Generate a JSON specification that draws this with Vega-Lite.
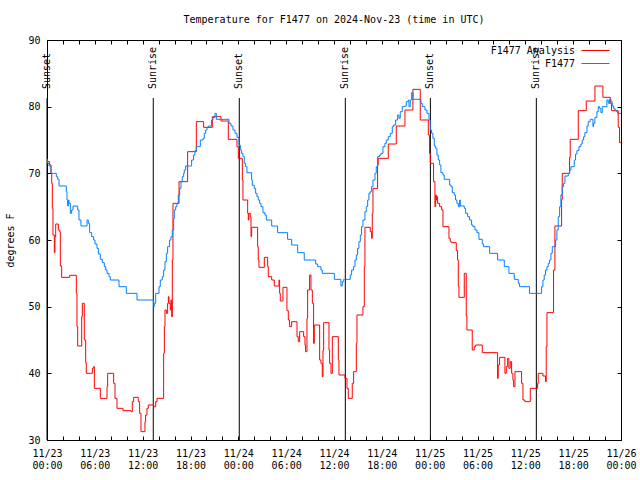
{
  "$schema": "https://vega.github.io/schema/vega-lite/v6.json",
  "width": 574,
  "height": 400,
  "autosize": {"type": "none"},
  "padding": {"left": 47, "top": 40, "right": 19, "bottom": 40},
  "background": "white",
  "config": {
    "font": "DejaVu Sans Mono",
    "view": {"stroke": "black", "strokeWidth": 1},
    "axis": {"labelFont": "DejaVu Sans Mono", "labelFontSize": 10, "labelColor": "black", "tickColor": "black", "grid": false, "domain": false, "titleFont": "DejaVu Sans Mono", "titleFontSize": 10, "titleFontWeight": "normal", "titleColor": "black"}
  },
  "title": {"text": "Temperature for F1477 on 2024-Nov-23 (time in UTC)", "font": "DejaVu Sans Mono", "fontSize": 10, "fontWeight": "normal", "anchor": "middle", "frame": "group", "offset": 10, "color": "black"},
  "datasets": {
    "red": [
{"h":0,"t":71.75},{"h":0.33,"t":71.25},{"h":0.5,"t":70},{"h":0.59,"t":68.5},{"h":0.67,"t":64.75},{"h":0.75,"t":60.75},{"h":0.92,"t":58.1},{"h":1.0,"t":60.5},{"h":1.09,"t":62.4},{"h":1.42,"t":61.5},{"h":1.59,"t":61.25},{"h":1.67,"t":56.1},{"h":1.84,"t":54.4},{"h":2.84,"t":54.7},{"h":3.68,"t":52},{"h":3.76,"t":47},{"h":3.85,"t":44.1},{"h":4.35,"t":48.5},{"h":4.43,"t":50.5},{"h":4.68,"t":45},{"h":4.85,"t":41.6},{"h":4.93,"t":40},{"h":5.69,"t":40.75},{"h":5.85,"t":41},{"h":5.94,"t":37.75},{"h":6.69,"t":36.25},{"h":7.53,"t":38},{"h":7.61,"t":40},{"h":8.36,"t":38.5},{"h":8.53,"t":36.25},{"h":8.78,"t":34.75},{"h":9.53,"t":34.4},{"h":10.54,"t":34.25},{"h":10.70,"t":35.75},{"h":10.87,"t":36.4},{"h":11.45,"t":35.75},{"h":11.62,"t":34},{"h":11.79,"t":31.25},{"h":12.29,"t":32.75},{"h":12.37,"t":33.75},{"h":12.54,"t":34.75},{"h":12.71,"t":35.25},{"h":13.38,"t":35},{"h":13.63,"t":35.75},{"h":13.80,"t":36.25},{"h":14.63,"t":43},{"h":14.72,"t":47},{"h":14.80,"t":49.5},{"h":14.97,"t":49},{"h":15.13,"t":50.5},{"h":15.22,"t":51.5},{"h":15.30,"t":50.5},{"h":15.47,"t":49.5},{"h":15.55,"t":51},{"h":15.64,"t":48.5},{"h":15.72,"t":57},{"h":15.80,"t":65.5},{"h":16.56,"t":68.75},{"h":17.64,"t":73.25},{"h":18.73,"t":77.75},{"h":19.65,"t":76.9},{"h":20.74,"t":78.5},{"h":21.82,"t":77.85},{"h":22.74,"t":75.1},{"h":23.83,"t":74},{"h":24.0,"t":72.25},{"h":24.5,"t":69},{"h":24.58,"t":66},{"h":25.17,"t":64},{"h":25.25,"t":63},{"h":25.33,"t":64},{"h":25.5,"t":63.5},{"h":25.59,"t":60.5},{"h":25.67,"t":61.9},{"h":26.42,"t":59},{"h":26.5,"t":57},{"h":26.59,"t":55.9},{"h":27.26,"t":57.4},{"h":27.68,"t":56},{"h":27.76,"t":54.5},{"h":28.18,"t":54},{"h":28.51,"t":53.1},{"h":29.10,"t":54},{"h":29.18,"t":52},{"h":29.26,"t":50.85},{"h":29.60,"t":52.9},{"h":30.10,"t":49.4},{"h":30.27,"t":48},{"h":30.43,"t":47},{"h":30.69,"t":47.75},{"h":31.36,"t":45.5},{"h":31.52,"t":44.75},{"h":31.69,"t":46.25},{"h":32.19,"t":45.5},{"h":32.36,"t":44.25},{"h":32.44,"t":43.25},{"h":32.61,"t":48.25},{"h":32.69,"t":52.5},{"h":32.94,"t":54.75},{"h":33.11,"t":52.5},{"h":33.28,"t":50.5},{"h":33.44,"t":44.5},{"h":33.53,"t":47.25},{"h":34.20,"t":42},{"h":34.36,"t":41.5},{"h":34.53,"t":39.5},{"h":34.62,"t":43.5},{"h":34.70,"t":47.6},{"h":35.37,"t":43.5},{"h":35.45,"t":41.5},{"h":35.62,"t":40},{"h":35.79,"t":45.5},{"h":36.54,"t":42},{"h":36.62,"t":39.75},{"h":37.37,"t":39.25},{"h":37.63,"t":37.75},{"h":37.79,"t":36.25},{"h":38.29,"t":38.5},{"h":38.46,"t":40.25},{"h":38.80,"t":44.5},{"h":38.88,"t":48.75},{"h":39.63,"t":50},{"h":39.80,"t":56},{"h":39.88,"t":61.9},{"h":40.55,"t":61.25},{"h":40.72,"t":60.25},{"h":40.80,"t":64},{"h":40.89,"t":67.75},{"h":41.47,"t":71.25},{"h":41.55,"t":72.25},{"h":42.81,"t":74.4},{"h":43.81,"t":77.1},{"h":44.90,"t":79.5},{"h":45.90,"t":82.6},{"h":46.82,"t":78},{"h":47.83,"t":75.75},{"h":47.99,"t":73},{"h":48.08,"t":71.5},{"h":48.49,"t":68.75},{"h":48.66,"t":65},{"h":48.75,"t":66.75},{"h":48.83,"t":66},{"h":48.91,"t":66.5},{"h":49.0,"t":65.5},{"h":49.25,"t":65},{"h":49.5,"t":64.5},{"h":49.67,"t":62},{"h":50.42,"t":60.25},{"h":50.58,"t":59.75},{"h":50.75,"t":59.6},{"h":51.34,"t":58.4},{"h":51.5,"t":57},{"h":51.59,"t":53.1},{"h":51.67,"t":51.4},{"h":52.34,"t":55},{"h":52.59,"t":48.6},{"h":52.67,"t":46.5},{"h":53.34,"t":43.5},{"h":53.59,"t":44},{"h":53.76,"t":44.25},{"h":54.60,"t":43.1},{"h":56.52,"t":39.25},{"h":56.60,"t":41.25},{"h":56.77,"t":42.4},{"h":57.44,"t":40},{"h":57.61,"t":41},{"h":57.78,"t":42.25},{"h":57.94,"t":40.75},{"h":58.11,"t":41.75},{"h":58.28,"t":40},{"h":58.44,"t":39},{"h":58.53,"t":38},{"h":58.70,"t":40.25},{"h":59.53,"t":38.5},{"h":59.70,"t":36},{"h":59.95,"t":35.75},{"h":60.62,"t":37.75},{"h":61.54,"t":38.5},{"h":61.62,"t":40},{"h":62.21,"t":39.6},{"h":62.54,"t":38.75},{"h":62.62,"t":44},{"h":62.71,"t":49.1},{"h":63.54,"t":55.5},{"h":63.71,"t":62.1},{"h":64.55,"t":66.1},{"h":64.63,"t":70},{"h":65.55,"t":72.4},{"h":65.63,"t":75.1},{"h":66.64,"t":79.4},{"h":67.64,"t":80.85},{"h":68.73,"t":83.1},{"h":69.73,"t":81.4},{"h":70.65,"t":80.5},{"h":70.82,"t":79.4},{"h":71.65,"t":76.9},{"h":71.82,"t":74.6},{"h":72,"t":74.6}
    ],
    "blue": [
{"h":0,"t":72.1},{"h":0.08,"t":71.5},{"h":0.25,"t":71.1},{"h":0.5,"t":70},{"h":1.17,"t":69.5},{"h":1.34,"t":69.1},{"h":1.51,"t":68.1},{"h":2.42,"t":67.25},{"h":2.51,"t":66},{"h":2.59,"t":65.1},{"h":2.68,"t":66},{"h":2.76,"t":65.5},{"h":2.93,"t":64},{"h":3.09,"t":64.5},{"h":3.26,"t":65.1},{"h":3.85,"t":64.5},{"h":4.01,"t":63},{"h":4.26,"t":62.1},{"h":5.02,"t":63},{"h":5.18,"t":62.5},{"h":5.35,"t":61.1},{"h":5.6,"t":60.5},{"h":5.85,"t":60},{"h":6.02,"t":59.4},{"h":6.27,"t":58.75},{"h":6.44,"t":57.9},{"h":6.69,"t":57.1},{"h":6.94,"t":56.6},{"h":7.19,"t":56},{"h":7.36,"t":55.5},{"h":7.53,"t":55},{"h":7.78,"t":54.5},{"h":7.94,"t":54},{"h":9.03,"t":53},{"h":9.95,"t":52},{"h":11.29,"t":51},{"h":13.38,"t":50},{"h":13.46,"t":50.5},{"h":13.63,"t":52},{"h":14.05,"t":53},{"h":14.21,"t":54},{"h":14.46,"t":54.5},{"h":14.63,"t":55.5},{"h":14.80,"t":56.75},{"h":14.97,"t":58},{"h":15.13,"t":59},{"h":15.38,"t":60},{"h":15.55,"t":60.5},{"h":15.72,"t":61.5},{"h":15.89,"t":63.25},{"h":15.97,"t":64.5},{"h":16.14,"t":65},{"h":16.30,"t":65.5},{"h":16.47,"t":66.75},{"h":16.64,"t":67.75},{"h":16.81,"t":68.75},{"h":16.97,"t":69.5},{"h":17.14,"t":70},{"h":17.22,"t":70.5},{"h":17.39,"t":71.1},{"h":18.14,"t":72},{"h":18.39,"t":72.75},{"h":18.56,"t":73.4},{"h":18.73,"t":74},{"h":19.23,"t":75},{"h":19.57,"t":75.25},{"h":19.73,"t":76},{"h":19.90,"t":76.5},{"h":20.07,"t":76.9},{"h":20.23,"t":77.1},{"h":20.65,"t":78},{"h":20.82,"t":78.4},{"h":21.07,"t":79},{"h":21.24,"t":78.1},{"h":22.83,"t":77.5},{"h":23.08,"t":77.1},{"h":23.33,"t":76.5},{"h":23.58,"t":76},{"h":23.83,"t":75.4},{"h":24.08,"t":74.25},{"h":24.25,"t":73.5},{"h":24.41,"t":73},{"h":24.58,"t":72.5},{"h":24.75,"t":71.5},{"h":24.92,"t":71},{"h":25.08,"t":70.1},{"h":25.67,"t":69},{"h":25.75,"t":68.2},{"h":26.0,"t":67.75},{"h":26.17,"t":67},{"h":26.34,"t":66.5},{"h":26.5,"t":66},{"h":26.67,"t":65.5},{"h":26.84,"t":65},{"h":27.09,"t":64.1},{"h":27.34,"t":63.75},{"h":27.51,"t":63},{"h":28.18,"t":62.1},{"h":28.93,"t":61.1},{"h":30.18,"t":60.1},{"h":30.69,"t":59.25},{"h":31.44,"t":58.1},{"h":32.27,"t":57},{"h":33.70,"t":56.4},{"h":33.95,"t":56},{"h":34.36,"t":55.5},{"h":34.53,"t":55},{"h":36.04,"t":54.1},{"h":36.87,"t":53.1},{"h":37.04,"t":53.75},{"h":37.21,"t":54.1},{"h":38.04,"t":54.75},{"h":38.21,"t":55.5},{"h":38.46,"t":56},{"h":38.63,"t":57},{"h":38.80,"t":57.75},{"h":38.96,"t":58.75},{"h":39.13,"t":59.75},{"h":39.30,"t":60.75},{"h":39.46,"t":62},{"h":39.63,"t":63},{"h":39.88,"t":64.25},{"h":40.05,"t":65},{"h":40.22,"t":66},{"h":40.38,"t":67},{"h":40.55,"t":67.25},{"h":40.72,"t":68},{"h":40.89,"t":69},{"h":41.14,"t":70},{"h":41.30,"t":71},{"h":41.47,"t":72.5},{"h":41.72,"t":72.75},{"h":41.89,"t":73},{"h":42.14,"t":74},{"h":42.39,"t":74.5},{"h":42.56,"t":75},{"h":42.81,"t":75.5},{"h":43.06,"t":76},{"h":43.31,"t":77},{"h":43.48,"t":77.25},{"h":43.73,"t":78},{"h":43.98,"t":78.75},{"h":44.15,"t":78.25},{"h":44.31,"t":79.25},{"h":44.56,"t":80},{"h":44.90,"t":80.1},{"h":45.07,"t":80.75},{"h":45.32,"t":81},{"h":45.40,"t":80},{"h":45.57,"t":81},{"h":45.74,"t":82.1},{"h":45.90,"t":81.1},{"h":46.91,"t":80.5},{"h":47.07,"t":80},{"h":47.41,"t":79.5},{"h":47.66,"t":79},{"h":47.91,"t":78},{"h":48.08,"t":76.5},{"h":48.24,"t":76},{"h":48.41,"t":75.25},{"h":48.58,"t":74.1},{"h":48.75,"t":73.75},{"h":48.91,"t":72.75},{"h":49.08,"t":72},{"h":49.25,"t":71.25},{"h":49.41,"t":70.1},{"h":49.67,"t":69.75},{"h":49.83,"t":69.1},{"h":50.5,"t":68.25},{"h":50.67,"t":68},{"h":50.84,"t":67.1},{"h":51.09,"t":66.75},{"h":51.25,"t":66},{"h":51.42,"t":65.5},{"h":51.59,"t":65},{"h":51.76,"t":66},{"h":51.84,"t":65.1},{"h":52.34,"t":64.75},{"h":52.51,"t":64},{"h":52.76,"t":63.5},{"h":53.01,"t":63},{"h":53.26,"t":62.25},{"h":53.43,"t":62},{"h":53.68,"t":61.5},{"h":53.93,"t":61.1},{"h":54.18,"t":60.1},{"h":54.60,"t":59.4},{"h":54.77,"t":59},{"h":55.52,"t":58},{"h":56.52,"t":57},{"h":57.36,"t":56},{"h":57.94,"t":55},{"h":58.61,"t":54.1},{"h":59.11,"t":53.5},{"h":59.28,"t":53},{"h":60.53,"t":52},{"h":62.04,"t":53},{"h":62.21,"t":54},{"h":62.37,"t":54.75},{"h":62.54,"t":55.5},{"h":62.71,"t":56},{"h":62.88,"t":56.5},{"h":63.04,"t":57},{"h":63.21,"t":58},{"h":63.38,"t":59},{"h":63.80,"t":60},{"h":63.96,"t":61.5},{"h":64.13,"t":63.5},{"h":64.30,"t":65},{"h":64.46,"t":66.75},{"h":64.63,"t":68},{"h":64.80,"t":68.5},{"h":64.97,"t":69.6},{"h":65.38,"t":70},{"h":65.55,"t":70.5},{"h":65.72,"t":71},{"h":66.14,"t":72},{"h":66.30,"t":72.9},{"h":66.47,"t":73.4},{"h":66.72,"t":74},{"h":66.97,"t":74.4},{"h":67.14,"t":75},{"h":67.31,"t":75.5},{"h":67.47,"t":76.1},{"h":67.73,"t":77.1},{"h":67.89,"t":77.75},{"h":68.14,"t":78.1},{"h":68.48,"t":77},{"h":68.56,"t":77.5},{"h":68.73,"t":78.4},{"h":68.98,"t":79.25},{"h":69.15,"t":80},{"h":69.31,"t":79.75},{"h":69.48,"t":79.1},{"h":69.65,"t":80},{"h":70.23,"t":81},{"h":70.40,"t":80.5},{"h":70.57,"t":81.1},{"h":70.74,"t":80.75},{"h":70.90,"t":80.1},{"h":71.07,"t":79.75},{"h":71.24,"t":79.5},{"h":71.40,"t":79.3},{"h":71.57,"t":79},{"h":72,"t":79}
    ],
    "sun": [
      {"h": 0, "label": "Sunset"},
      {"h": 13.33, "label": "Sunrise"},
      {"h": 24.12, "label": "Sunset"},
      {"h": 37.42, "label": "Sunrise"},
      {"h": 48.09, "label": "Sunset"},
      {"h": 61.38, "label": "Sunrise"}
    ]
  },
  "layer": [
    {
      "data": {"name": "sun"},
      "mark": {"type": "rule", "color": "black", "strokeWidth": 1},
      "encoding": {
        "x": {"field": "h", "type": "quantitative", "scale": {"domain": [0, 72], "nice": false, "zero": false},
              "axis": {"orient": "top", "values": [0,2,4,6,8,10,12,14,16,18,20,22,24,26,28,30,32,34,36,38,40,42,44,46,48,50,52,54,56,58,60,62,64,66,68,70,72], "labels": false, "tickSize": -4, "title": null}},
        "y": {"datum": 30, "type": "quantitative", "scale": {"domain": [30, 90], "nice": false, "zero": false},
              "axis": {"orient": "right", "values": [30,40,50,60,70,80,90], "labels": false, "tickSize": -4, "title": null}},
        "y2": {"datum": 81.3}
      }
    },
    {
      "data": {"name": "sun"},
      "mark": {"type": "text", "angle": 270, "align": "left", "baseline": "middle", "dx": 3, "font": "DejaVu Sans Mono", "fontSize": 10, "color": "black"},
      "encoding": {
        "x": {"field": "h", "type": "quantitative", "scale": {"domain": [0, 72], "nice": false, "zero": false}, "axis": null},
        "y": {"datum": 82.2, "type": "quantitative", "scale": {"domain": [30, 90], "nice": false, "zero": false}, "axis": null},
        "text": {"field": "label"}
      }
    },
    {
      "data": {"name": "red"},
      "mark": {"type": "line", "interpolate": "step-after", "strokeWidth": 1},
      "encoding": {
        "x": {"field": "h", "type": "quantitative", "scale": {"domain": [0, 72], "nice": false, "zero": false},
              "axis": {"orient": "bottom", "values": [0,2,4,6,8,10,12,14,16,18,20,22,24,26,28,30,32,34,36,38,40,42,44,46,48,50,52,54,56,58,60,62,64,66,68,70,72],
                       "labelExpr": "datum.value % 6 == 0 ? ['11/' + (23 + floor(datum.value / 24)), (datum.value % 24 < 10 ? '0' : '') + (datum.value % 24) + ':00'] : ''",
                       "tickSize": -4, "labelPadding": 12, "labelLineHeight": 12, "labelBaseline": "top", "labelFlush": false, "labelOverlap": false, "title": null}},
        "y": {"field": "t", "type": "quantitative", "scale": {"domain": [30, 90], "nice": false, "zero": false},
              "axis": {"orient": "left", "values": [30,40,50,60,70,80,90], "tickSize": -4, "labelPadding": 11, "title": "degrees F", "titlePadding": 12}},
        "color": {"datum": "F1477 Analysis", "type": "nominal",
                  "scale": {"domain": ["F1477 Analysis", "F1477"], "range": ["#ff0000", "#0080ff"]},
                  "legend": {"title": null, "orient": "none", "legendX": 543, "legendY": 5, "padding": 0, "symbolType": "M-2.8,0H2.8", "symbolSize": 100, "symbolStrokeWidth": 1, "symbolFillColor": "transparent", "labelFont": "DejaVu Sans Mono", "labelFontSize": 10, "labelColor": "black", "labelAlign": "right", "labelOffset": -26, "rowPadding": 2}}
      }
    },
    {
      "data": {"name": "blue"},
      "mark": {"type": "line", "interpolate": "step-after", "strokeWidth": 1},
      "encoding": {
        "x": {"field": "h", "type": "quantitative", "scale": {"domain": [0, 72], "nice": false, "zero": false}, "axis": null},
        "y": {"field": "t", "type": "quantitative", "scale": {"domain": [30, 90], "nice": false, "zero": false}, "axis": null},
        "color": {"datum": "F1477", "type": "nominal"}
      }
    }
  ],
  "resolve": {"axis": {"x": "independent", "y": "independent"}}
}
